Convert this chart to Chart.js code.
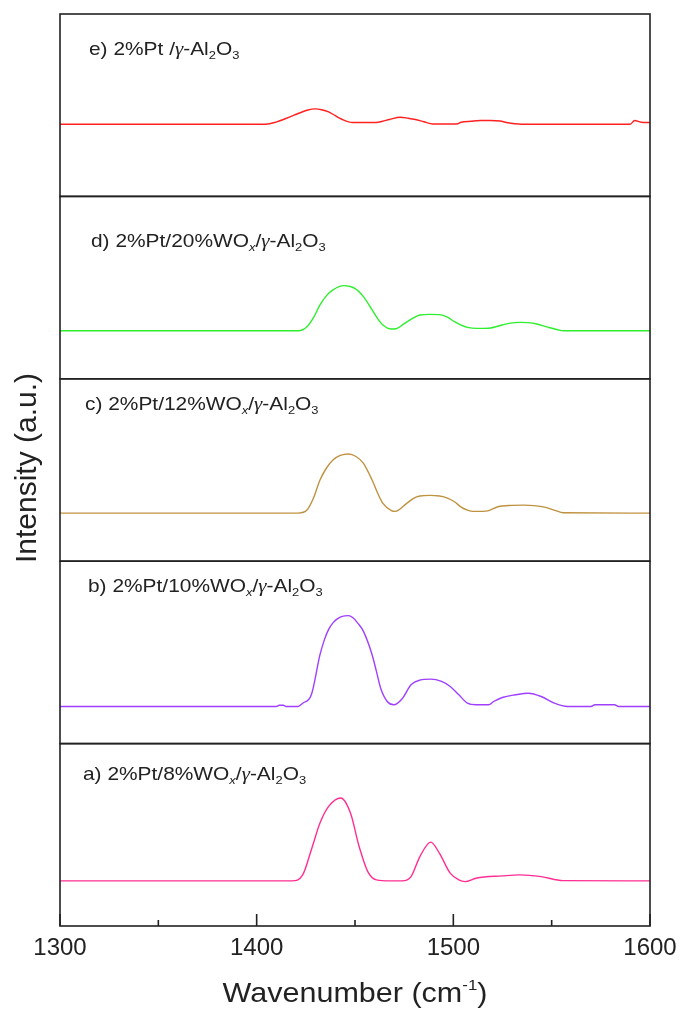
<!DOCTYPE html>
<html>
<head>
<meta charset="utf-8">
<script src="https://cdn.jsdelivr.net/npm/chart.js@4.4.1/dist/chart.umd.min.js"></script>
<style>
  body { margin: 0; background: #fff; }
  #wrap { position: relative; width: 680px; height: 1016px; font-family: 'Liberation Sans', Arial, sans-serif; color: #222; }
  #chart { position: absolute; left: 0; top: 0; }
  .lbl { position: absolute; font-size: 19px; line-height: 19px; white-space: nowrap; transform-origin: left center; transform: scaleX(1.1); }
  .lbl sub { font-size: 0.62em; vertical-align: -0.3em; line-height: 0; }
  .gam { font-family: 'Liberation Serif', serif; font-style: italic; }
  #xtitle { position: absolute; left: 155px; top: 979px; width: 400px; text-align: center; font-size: 28px; line-height: 28px; transform: scaleX(1.09); }
  #xtitle sup { font-size: 0.55em; vertical-align: 0.75em; line-height: 0; }
  #ytitle { position: absolute; left: -124px; top: 453px; width: 300px; height: 30px; text-align: center; font-size: 30px; line-height: 30px; transform: rotate(-90deg); }
</style>
</head>
<body>
<div id="wrap">
  <canvas id="chart" width="680" height="1016"></canvas>
  <div id="xtitle">Wavenumber (cm<sup>-1</sup>)</div>
  <div id="ytitle">Intensity (a.u.)</div>
</div>
<script>
// x axis
const xTickValues = [1300, 1400, 1500, 1600];
const xMinorValues = [1350, 1450, 1550];

// a) 2%Pt/8%WOx/γ-Al2O3
const waveA = [1300, 1418, 1423.4, 1427.8, 1432.2, 1436.6, 1442.8, 1447.7, 1452.1, 1456.5, 1460.9, 1468, 1474, 1478.5, 1483, 1488.5, 1492.9, 1498.4, 1502.8, 1506, 1511.6, 1524.9, 1533.7, 1544.7, 1555.8, 1600];
const intA  = [0, 0, 6, 31, 57.7, 74.3, 82.7, 67.7, 34.3, 9.3, 1, 0, 0, 4.3, 24.3, 38.7, 27.7, 7.7, 1, -0.7, 2.7, 5, 6, 4.3, 0.3, 0];

// b) 2%Pt/10%WOx/γ-Al2O3
const waveB = [1300, 1410, 1411.5, 1413.5, 1415, 1421, 1423.4, 1427.8, 1432.2, 1434.5, 1436.6, 1439, 1441, 1443.5, 1446.6, 1449, 1451.5, 1454.3, 1458.7, 1460.9, 1463.1, 1466.4, 1469.7, 1474.2, 1478.5, 1483, 1488.5, 1494, 1498.4, 1502.8, 1507.2, 1511.6, 1518, 1520.5, 1524.9, 1531.5, 1538.1, 1544.7, 1551.4, 1558, 1570, 1572, 1582, 1584, 1600];
const intB  = [0, 0, 1.3, 1.3, 0, 0, 3.3, 11.7, 51.7, 67, 77, 84, 87.5, 90, 90.7, 88.5, 83, 75, 51.7, 35, 18, 5, 1.7, 8.3, 21.7, 26.3, 27.3, 25, 20, 11.7, 3.3, 1.7, 1.7, 5, 9, 11.7, 13.3, 10, 3.3, 0, 0, 1.7, 1.7, 0, 0];

// c) 2%Pt/12%WOx/γ-Al2O3
const waveC = [1300, 1421.2, 1425.6, 1428.9, 1432.2, 1435.5, 1438.8, 1442.5, 1446.6, 1450.5, 1454.3, 1458.7, 1461.5, 1464.2, 1468.5, 1470.5, 1476.3, 1480, 1483, 1488, 1493, 1497, 1500.6, 1504, 1507.2, 1510, 1515, 1518, 1522.7, 1530, 1535.9, 1541, 1546.9, 1552, 1555.8, 1600];
const intC  = [0, 0, 3, 15, 33, 45, 53, 57.5, 59, 56.5, 49.7, 33, 20, 9.7, 2.5, 1.7, 9.7, 15, 17, 17.7, 17, 15, 11.3, 6, 3, 1.7, 1.7, 2.5, 6.3, 7.7, 8, 7.5, 5.7, 2.5, 0.3, 0];

// d) 2%Pt/20%WOx/γ-Al2O3
const waveD = [1300, 1421.2, 1425.6, 1428.9, 1432.2, 1435.5, 1438.8, 1444.4, 1449.9, 1454.3, 1458.7, 1461.5, 1464.2, 1468.6, 1471, 1475.2, 1480, 1483, 1488, 1493, 1497, 1500.6, 1504, 1507.2, 1512, 1518, 1524.9, 1529, 1533.7, 1538, 1542.5, 1548, 1553.6, 1556, 1600];
const intD  = [0, 0, 4, 13, 25.7, 35, 40.7, 45, 42.3, 34, 20.7, 12, 5.7, 1.7, 2, 7.3, 13, 15.7, 16.3, 16, 13.5, 9, 5.5, 3.3, 2.3, 2.5, 5.7, 7.5, 8.3, 8, 6.7, 3.5, 0.7, 0, 0];

// e) 2%Pt /γ-Al2O3
const waveE = [1300, 1404.6, 1410.2, 1414.5, 1419, 1425.6, 1430, 1433, 1436.6, 1440, 1443.3, 1448.8, 1455, 1460.9, 1464, 1467.5, 1473, 1477, 1480.7, 1485, 1489.5, 1501.7, 1504, 1509, 1513.8, 1519, 1523.8, 1527, 1534.8, 1589.9, 1592.2, 1595.5, 1600];
const intE  = [0, 0, 2.3, 5.5, 9, 14, 15.3, 14.5, 12.3, 8.5, 5, 1.7, 1.7, 1.7, 3, 4.7, 7, 6, 4.7, 2.5, 0.3, 0.3, 2, 3, 3.7, 3.7, 3.3, 1.7, 0, 0, 3.7, 2, 1.7];

const panelLabels = [
  'a) 2%Pt/8%WO<sub><i>x</i></sub>/<span class="gam">γ</span>-Al<sub>2</sub>O<sub>3</sub>',
  'b) 2%Pt/10%WO<sub><i>x</i></sub>/<span class="gam">γ</span>-Al<sub>2</sub>O<sub>3</sub>',
  'c) 2%Pt/12%WO<sub><i>x</i></sub>/<span class="gam">γ</span>-Al<sub>2</sub>O<sub>3</sub>',
  'd) 2%Pt/20%WO<sub><i>x</i></sub>/<span class="gam">γ</span>-Al<sub>2</sub>O<sub>3</sub>',
  'e) 2%Pt /<span class="gam">γ</span>-Al<sub>2</sub>O<sub>3</sub>'
];

const panels = [
  { id: 'yA', wave: waveA, vals: intA, color: '#ff2e93', min: -45, max: 137, lx: 83, ly: 764 },
  { id: 'yB', wave: waveB, vals: intB, color: '#9f3fff', min: -37, max: 145, lx: 88, ly: 576 },
  { id: 'yC', wave: waveC, vals: intC, color: '#bf9240', min: -48, max: 134, lx: 85, ly: 394 },
  { id: 'yD', wave: waveD, vals: intD, color: '#2eee2e', min: -48, max: 134, lx: 91, ly: 231 },
  { id: 'yE', wave: waveE, vals: intE, color: '#ff2020', min: -72, max: 110, lx: 89, ly: 39 }
];

const wrap = document.getElementById('wrap');
panels.forEach((p, i) => {
  const d = document.createElement('div');
  d.className = 'lbl';
  d.style.left = p.lx + 'px';
  d.style.top = p.ly + 'px';
  d.innerHTML = panelLabels[i];
  wrap.appendChild(d);
});

const scales = {
  x: {
    type: 'linear',
    position: 'bottom',
    min: 1300,
    max: 1600,
    afterBuildTicks: s => { s.ticks = xTickValues.map(v => ({ value: v })); },
    afterFit: s => {
      s.height = 90;
      s.paddingLeft = 0;
      s.paddingRight = 0;
    },
    grid: { display: false, drawTicks: false },
    border: { display: false },
    ticks: {
      color: '#222',
      font: { family: "'Liberation Sans', Arial, sans-serif", size: 24 },
      padding: 8,
      maxRotation: 0,
      autoSkip: false,
      callback: v => String(v)
    }
  }
};
panels.forEach(p => {
  scales[p.id] = {
    type: 'linear',
    position: 'left',
    stack: 'panels',
    stackWeight: 1,
    min: p.min,
    max: p.max,
    ticks: { display: false },
    grid: { display: false, drawTicks: false },
    border: { display: false },
    afterFit: s => { s.width = 0; }
  };
});

// frame round each panel and inward ticks on the bottom axis
const framePlugin = {
  id: 'frames',
  afterDatasetsDraw(chart) {
    const ctx = chart.ctx;
    const xs = chart.scales.x;
    ctx.save();
    ctx.strokeStyle = '#222';
    ctx.lineWidth = 1.6;
    panels.forEach(p => {
      const s = chart.scales[p.id];
      ctx.strokeRect(xs.left, s.top, xs.right - xs.left, s.bottom - s.top);
    });
    const base = chart.scales.yA.bottom;
    ctx.beginPath();
    xTickValues.forEach(v => {
      const px = xs.getPixelForValue(v);
      ctx.moveTo(px, base);
      ctx.lineTo(px, base - 12);
    });
    xMinorValues.forEach(v => {
      const px = xs.getPixelForValue(v);
      ctx.moveTo(px, base);
      ctx.lineTo(px, base - 6);
    });
    ctx.stroke();
    ctx.restore();
  }
};

new Chart(document.getElementById('chart'), {
  type: 'line',
  data: {
    datasets: panels.map(p => ({
      data: p.wave.map((w, i) => ({ x: w, y: p.vals[i] })),
      yAxisID: p.id,
      borderColor: p.color,
      borderWidth: 1.4,
      pointRadius: 0,
      fill: false,
      cubicInterpolationMode: 'monotone'
    }))
  },
  options: {
    responsive: false,
    animation: false,
    devicePixelRatio: 1,
    layout: { padding: { left: 60, right: 30, top: 14, bottom: 0 } },
    plugins: { legend: { display: false }, tooltip: { enabled: false } },
    scales: scales
  },
  plugins: [framePlugin]
});
</script>
</body>
</html>
